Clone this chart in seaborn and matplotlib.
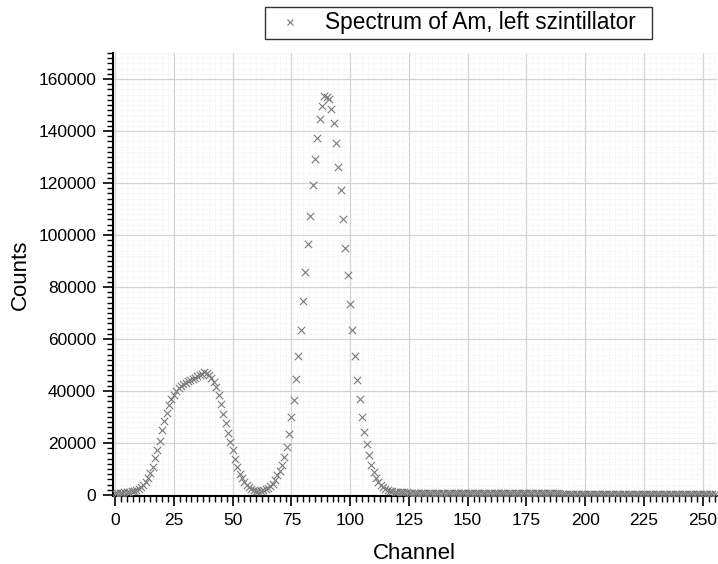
import matplotlib
matplotlib.use("Agg")
import matplotlib.pyplot as plt
from matplotlib.ticker import MultipleLocator
import seaborn as sns
import pandas as pd

# ---------------- data ----------------
channels = list(range(256))

counts_0_40 = [600, 700, 800, 900, 1000, 1100, 1200, 1400, 1600, 1900,
               2400, 3100, 3900, 5000, 6400, 8400, 10900, 14100, 17300, 20900,
               24800, 28300, 31500, 34700, 36900, 38600, 39800, 41100, 42000, 42600,
               43100, 43700, 44200, 44600, 45000, 45600, 46100, 46700, 47300, 46900]
counts_40_80 = [46200, 45100, 43400, 41500, 38300, 35000, 31300, 27500, 24000, 20500,
                17200, 13700, 10700, 8200, 6400, 4800, 3700, 2900, 2300, 1900,
                1700, 1600, 1700, 1900, 2300, 2800, 3300, 4300, 5700, 7700,
                9200, 11400, 14500, 18600, 23500, 29800, 36600, 44600, 53600, 63600]
counts_80_120 = [74500, 85900, 96500, 107300, 119100, 129100, 137200, 144600, 149700, 153500,
                 153100, 152400, 148400, 143000, 135200, 126200, 117200, 106300, 95100, 84600,
                 73400, 63300, 53300, 44300, 37000, 30000, 24400, 19700, 15200, 11600,
                 9000, 6400, 4800, 3700, 3000, 2300, 1900, 1600, 1400, 1300]
counts_120_256 = [1200, 1100, 1050, 1000, 960, 930, 900, 880, 860, 840, 820,
                  810, 800, 795, 780, 775, 772, 765, 760, 752, 750,
                  745, 738, 735, 731, 725, 720, 716, 710, 705, 700,
                  697, 690, 688, 684, 680, 677, 671, 668, 664, 660,
                  655, 652, 649, 645, 641, 638, 635, 630, 626, 622,
                  619, 615, 611, 608, 605, 600, 596, 594, 590, 586,
                  583, 581, 577, 573, 570, 567, 563, 560, 556, 554,
                  551, 547, 545, 542, 538, 536, 534, 530, 527, 524,
                  521, 519, 515, 512, 510, 506, 503, 500, 498, 494,
                  491, 489, 485, 482, 480, 476, 473, 471, 467, 464,
                  461, 459, 455, 452, 450, 446, 443, 441, 437, 434,
                  431, 429, 425, 422, 420, 416, 413, 411, 407, 404,
                  401, 399, 395, 392, 390, 386, 383, 381, 377, 374,
                  371, 369, 365, 362, 360]
counts = counts_0_40 + counts_40_80 + counts_80_120 + counts_120_256

x_ticks = [0, 25, 50, 75, 100, 125, 150, 175, 200, 225, 250]
y_ticks = [0, 20000, 40000, 60000, 80000, 100000, 120000, 140000, 160000]

series_label = "Spectrum of Am, left szintillator"

df = pd.DataFrame({"Channel": channels, "Counts": counts})

# ---------------- figure ----------------
sns.set_theme(style="white")
plt.rcParams["font.family"] = ["Liberation Sans", "DejaVu Sans"]
plt.rcParams["text.color"] = "black"
plt.rcParams["axes.labelcolor"] = "black"
plt.rcParams["xtick.color"] = "black"
plt.rcParams["ytick.color"] = "black"

fig = plt.figure(figsize=(7.18, 5.64), dpi=100)
ax = fig.add_axes([0.157, 0.1206, 0.8414, 0.7854])

sns.scatterplot(data=df, x="Channel", y="Counts", marker="x", color="#7a7a7a",
                s=28, linewidth=0.8, ax=ax, legend=False, zorder=3)

ax.set_xlim(-1, 256)
ax.set_ylim(-400, 170000)
ax.set_xticks(x_ticks)
ax.set_yticks(y_ticks)
ax.xaxis.set_minor_locator(MultipleLocator(2.5))
ax.yaxis.set_minor_locator(MultipleLocator(2000))

ax.grid(True, which="major", color="#d4d4d4", linewidth=0.9, linestyle="-", zorder=0)
ax.grid(True, which="minor", color="#e6e6e6", linewidth=0.5, linestyle=(0, (1, 2)), zorder=0)
ax.set_axisbelow(True)

for side in ["top", "right"]:
    ax.spines[side].set_visible(False)
for side in ["left", "bottom"]:
    ax.spines[side].set_color("black")
    ax.spines[side].set_linewidth(1.5)

ax.tick_params(axis="both", which="major", direction="out", length=7, width=1.2,
               colors="black", labelcolor="black", labelsize=12.5, pad=5,
               left=True, bottom=True)
ax.tick_params(axis="both", which="minor", direction="out", length=4, width=1.0,
               colors="black", left=True, bottom=True)

ax.set_xlabel("Channel", fontsize=16, labelpad=11, color="black")
ax.set_ylabel("Counts", fontsize=16, labelpad=5, color="black")

handle = plt.Line2D([], [], marker="x", linestyle="none", color="#7a7a7a",
                    markersize=5, markeredgewidth=0.8)
leg = fig.legend([handle], [series_label], loc="center", mode="expand",
                 bbox_to_anchor=(265 / 718, 1 - 38 / 564, 387 / 718, 30 / 564),
                 fontsize=16.3, frameon=True, fancybox=False,
                 handlelength=1.8, handletextpad=0.65,
                 borderpad=0.2, borderaxespad=0)
leg.get_frame().set_edgecolor("black")
leg.get_frame().set_linewidth(1.0)
for t in leg.get_texts():
    t.set_color("black")

fig.savefig("out.png", dpi=100)
